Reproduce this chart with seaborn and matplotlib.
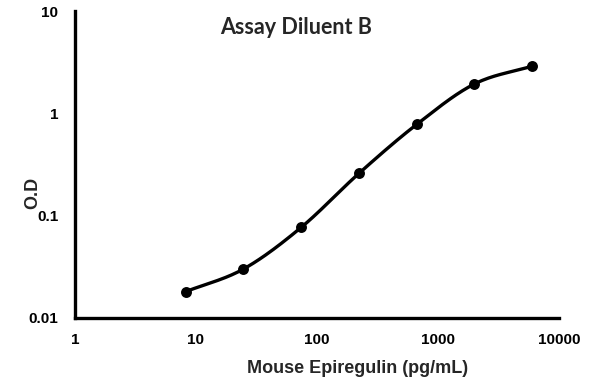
import numpy as np
import pandas as pd
import matplotlib
matplotlib.use("Agg")
import matplotlib.pyplot as plt
import seaborn as sns
from matplotlib.ticker import FixedLocator, FixedFormatter, NullLocator

conc = [8.23, 24.7, 74.1, 222.0, 667.0, 2000.0, 6000.0]
od = [0.0181, 0.0301, 0.0769, 0.259, 0.781, 1.94, 2.90]
x_ticks = [1, 10, 100, 1000, 10000]
x_labels = ["1", "10", "100", "1000", "10000"]
y_ticks = [0.01, 0.1, 1, 10]
y_labels = ["0.01", "0.1", "1", "10"]
title = "Assay Diluent B"
xlabel = "Mouse Epiregulin (pg/mL)"
ylabel = "O.D"

sns.set_theme(style="white")
plt.rcParams['font.family'] = ['Liberation Sans', 'DejaVu Sans']

# smoothed connecting line (Catmull-Rom in log space, like a spreadsheet "smoothed line")
lx = np.log10(conc)
ly = np.log10(od)
P = np.column_stack([lx, ly])
P = np.vstack([P[0] - (P[1] - P[0]), P, P[-1] + (P[-1] - P[-2])])
sx, sy = [], []
t = np.linspace(0, 1, 30)
for i in range(1, len(P) - 2):
    p0, p1, p2, p3 = P[i - 1], P[i], P[i + 1], P[i + 2]
    for tt in t:
        pt = 0.5 * ((2 * p1) + (-p0 + p2) * tt + (2 * p0 - 5 * p1 + 4 * p2 - p3) * tt ** 2
                    + (-p0 + 3 * p1 - 3 * p2 + p3) * tt ** 3)
        sx.append(pt[0]); sy.append(pt[1])
curve = pd.DataFrame({"x": 10 ** np.array(sx), "y": 10 ** np.array(sy)})
pts = pd.DataFrame({"x": conc, "y": od})

fig = plt.figure(figsize=(5.95, 3.84), dpi=100)
ax = fig.add_axes([0.126, 0.172, 0.8135, 0.799])
sns.lineplot(data=curve, x="x", y="y", ax=ax, color="black", linewidth=2.4, sort=False, estimator=None)
sns.scatterplot(data=pts, x="x", y="y", ax=ax, color="black", s=62, edgecolor="black", linewidth=0, zorder=5)

ax.set_xscale("log")
ax.set_yscale("log")
ax.set_xlim(1, 10000)
ax.set_ylim(0.01, 10)
ax.xaxis.set_major_locator(FixedLocator(x_ticks))
ax.xaxis.set_major_formatter(FixedFormatter(x_labels))
ax.xaxis.set_minor_locator(NullLocator())
ax.yaxis.set_major_locator(FixedLocator(y_ticks))
ax.yaxis.set_major_formatter(FixedFormatter(y_labels))
ax.yaxis.set_minor_locator(NullLocator())

for s in ["top", "right"]:
    ax.spines[s].set_visible(False)
for s in ["left", "bottom"]:
    ax.spines[s].set_color("black")
    ax.spines[s].set_linewidth(2.4)
ax.tick_params(axis="both", which="major", direction="out", length=3, width=2.4,
               colors="black", labelsize=11)
ax.tick_params(axis="y", pad=9)
ax.tick_params(axis="x", pad=8)
for lab in ax.get_xticklabels() + ax.get_yticklabels():
    lab.set_fontweight("bold")

ax.set_xlabel(xlabel, fontsize=13, fontweight="bold")
ax.xaxis.label.set_va("center")
ax.xaxis.set_label_coords(0.583, -0.166)
ax.set_ylabel(ylabel, fontsize=13, fontweight="bold")
ax.yaxis.set_label_coords(-0.07, 0.407)
ax.text(0.457, 0.948, title, transform=ax.transAxes, ha="center", va="center",
        fontsize=15.5, fontweight="bold", family=["Lato", "DejaVu Sans"])
ax.grid(False)

fig.savefig("out.png", dpi=100)
